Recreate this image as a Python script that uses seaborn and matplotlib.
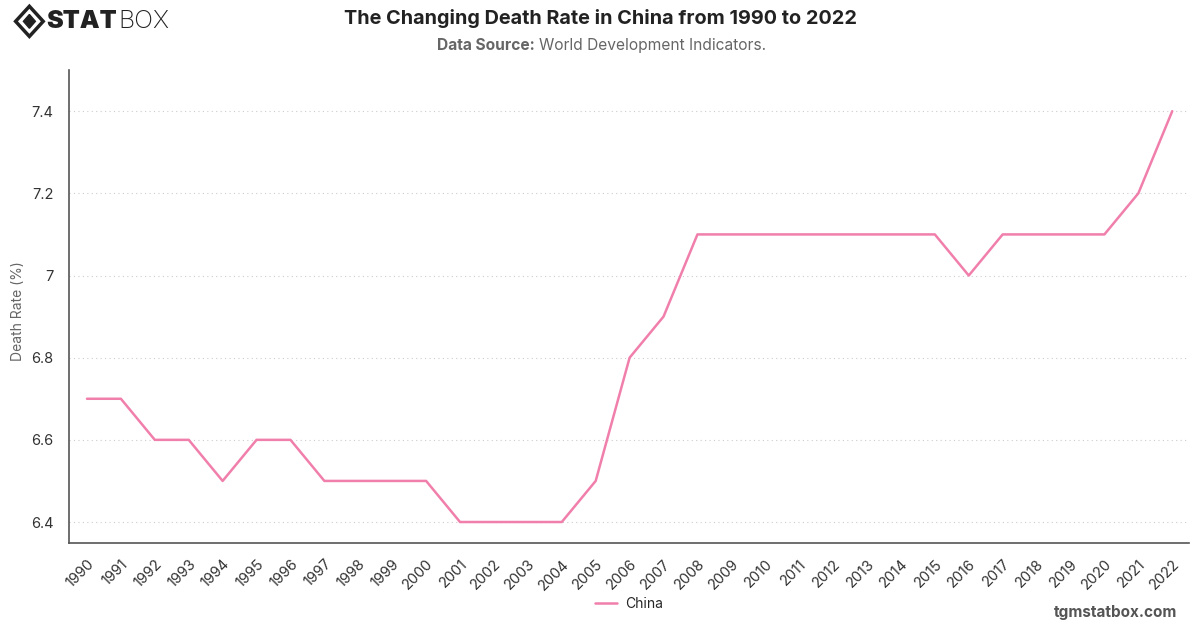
import numpy as np
import pandas as pd
import seaborn as sns
import matplotlib.pyplot as plt
from matplotlib.patches import Polygon

# data
years = list(range(1990, 2023))
death_rate = [6.7, 6.7, 6.6, 6.6, 6.5, 6.6, 6.6, 6.5, 6.5, 6.5, 6.5,
              6.4, 6.4, 6.4, 6.4, 6.5, 6.8, 6.9, 7.1, 7.1, 7.1, 7.1,
              7.1, 7.1, 7.1, 7.1, 7.0, 7.1, 7.1, 7.1, 7.1, 7.2, 7.4]
y_ticks = [6.4, 6.6, 6.8, 7.0, 7.2, 7.4]
y_tick_labels = ['6.4', '6.6', '6.8', '7', '7.2', '7.4']

df = pd.DataFrame({'Year': years, 'Death Rate': death_rate, 'Country': 'China'})

sns.set_theme(style='white')
plt.rcParams['font.family'] = ['Inter', 'DejaVu Sans']

fig = plt.figure(figsize=(12, 6.28), dpi=100)
ax = fig.add_axes([0.0575, 0.1354, 0.9335, 0.753])

sns.lineplot(data=df, x='Year', y='Death Rate', hue='Country',
             palette=['#f07fab'], linewidth=1.8, ax=ax, legend=False)

ax.set_xlim(1989.47, 2022.5)
ax.set_ylim(6.349, 7.5)
ax.set_xticks(years)
ax.set_xticklabels([str(y) for y in years], rotation=45, ha='right',
                   rotation_mode='anchor', fontsize=10.5, color='#333333')
ax.set_yticks(y_ticks)
ax.set_yticklabels(y_tick_labels, fontsize=10.5, color='#333333')
ax.tick_params(axis='x', length=0, pad=10)
ax.tick_params(axis='y', length=0, pad=11)
ax.yaxis.grid(True, linestyle=(0, (1, 3)), color='#cccccc', linewidth=0.8)
ax.set_xlabel('')
ax.set_ylabel('Death Rate (%)', fontsize=10, color='#666666')
ax.yaxis.set_label_coords(-0.039, 0.49)

for side in ['top', 'right']:
    ax.spines[side].set_visible(False)
for side in ['left', 'bottom']:
    ax.spines[side].set_color('#555555')
    ax.spines[side].set_linewidth(1.2)

# legend below
ax.plot([], [], color='#f07fab', linewidth=1.8, label='China')
ax.legend(loc='upper center', bbox_to_anchor=(0.5, -0.087), frameon=False,
          fontsize=10, handlelength=1.6, handletextpad=0.6)

# titles
fig.text(0.5, 0.971, 'The Changing Death Rate in China from 1990 to 2022',
         ha='center', va='center', fontsize=14.3, fontweight='bold', color='#222222')
fig.text(0.3645, 0.927, 'Data Source:', ha='left', va='center',
         fontsize=11.2, fontweight='bold', color='#666666')
fig.text(0.4495, 0.927, 'World Development Indicators.', ha='left', va='center',
         fontsize=11.2, color='#666666')

# logo
fig.patches.append(Polygon([[0.013, 0.966], [0.0245, 0.990], [0.036, 0.966], [0.0245, 0.942]],
                           closed=True, transform=fig.transFigure, facecolor='none',
                           edgecolor='#222222', linewidth=2.5))
fig.patches.append(Polygon([[0.0195, 0.966], [0.0245, 0.977], [0.0295, 0.966], [0.0245, 0.955]],
                           closed=True, transform=fig.transFigure, facecolor='#222222',
                           edgecolor='#222222'))
stat = fig.text(0.0385, 0.966, 'STAT', ha='left', va='center', fontsize=18,
                fontweight='black', color='#222222')
fig.canvas.draw()
bb = stat.get_window_extent().transformed(fig.transFigure.inverted())
fig.text(bb.x1 + 0.001, 0.966, 'BOX', ha='left', va='center', fontsize=18,
         fontweight='light', color='#222222')

fig.text(0.981, 0.025, 'tgmstatbox.com', ha='right', va='center', fontsize=11,
         fontweight='bold', color='#555555')

plt.savefig('out.png', dpi=100)
